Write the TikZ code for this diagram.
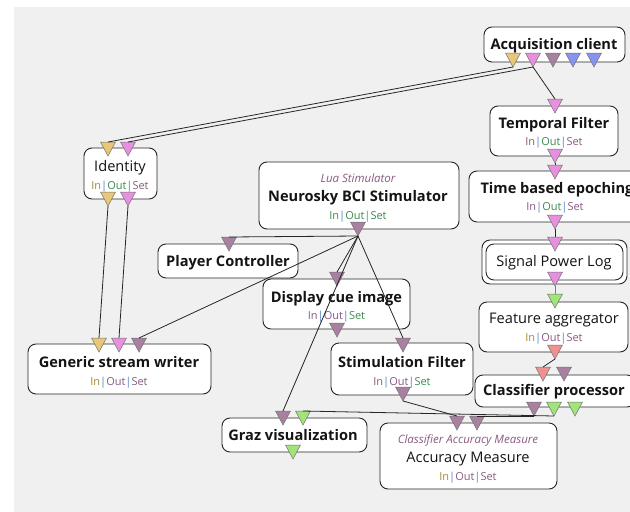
\documentclass[tikz,border=0pt]{standalone}
\usepackage{fontspec}
\setmainfont{Open Sans}
\definecolor{bggray}{HTML}{F0F0F0}
\definecolor{pyellow}{HTML}{E8C878}
\definecolor{ppink}{HTML}{E890E0}
\definecolor{pmauve}{HTML}{A880A0}
\definecolor{pblue}{HTML}{8494F0}
\definecolor{pgreen}{HTML}{A0E47A}
\definecolor{psalmon}{HTML}{F09090}
\definecolor{tyellow}{HTML}{A88A30}
\definecolor{tmauve}{HTML}{8A5A82}
\definecolor{tgreen}{HTML}{3F8A4F}
\definecolor{tsep}{HTML}{4A86C8}
\definecolor{wiregreen}{HTML}{4E9A50}

% connector port: name, x, top y, fill colour
\newcommand\port[4]{%
  \filldraw[fill=#4, draw=black!55, line width=0.5pt]
    (#2-7.5,#3) -- (#2+7.5,#3) -- (#2,#3+14) -- cycle;
  \coordinate (#1-in) at (#2,#3);
  \coordinate (#1-out) at (#2,#3+14);
}
% coloured In|Out|Set line
\newcommand\iosline[3]{\textcolor{#1}{In}\textcolor{tsep}{|}\textcolor{#2}{Out}\textcolor{tsep}{|}\textcolor{#3}{Set}}

\begin{document}
\begin{tikzpicture}[x=1pt, y=-1pt,
  box/.style={draw=black!85, fill=white, rounded corners=8pt, line width=0.9pt, inner sep=0pt},
  title/.style={anchor=base, font=\fontsize{14.6}{15}\selectfont\bfseries, text=black!92},
  plain/.style={anchor=base, font=\fontsize{14.6}{15}\selectfont, text=black!92},
  kind/.style={anchor=base, font=\fontsize{11.5}{12}\selectfont\itshape, text=tmauve},
  ios/.style={anchor=base, font=\fontsize{11}{12}\selectfont},
  wire/.style={draw=black!85, line width=0.8pt}]

\useasboundingbox (0,0) rectangle (630,512);
\clip (0,0) rectangle (630,512);
\fill[white] (0,0) rectangle (630,512);
\fill[bggray] (14,7) rectangle (630,512);

% boxes
\node[box, minimum width=141pt, minimum height=35pt] (acq) at (554.5,44.5) {};
\node[box, minimum width=128pt, minimum height=50pt] (tf) at (554,131) {};
\node[box, minimum width=172pt, minimum height=51pt] (tbe) at (555,196.5) {};
\node[box, minimum width=145pt, minimum height=44pt] (splo) at (554.5,262) {};
\node[box, minimum width=137pt, minimum height=36pt] (spl) at (554.5,262) {};
\node[box, minimum width=149pt, minimum height=50pt] (fa) at (553.5,327) {};
\node[box, minimum width=160pt, minimum height=32pt] (cp) at (555,391) {};
\node[box, minimum width=73pt, minimum height=51pt] (id) at (120.5,173.5) {};
\node[box, minimum width=200pt, minimum height=67pt] (ns) at (359,195.5) {};
\node[box, minimum width=140pt, minimum height=34pt] (pc) at (228,261) {};
\node[box, minimum width=147pt, minimum height=50pt] (dci) at (336.5,304) {};
\node[box, minimum width=183pt, minimum height=50pt] (gsw) at (119.5,369) {};
\node[box, minimum width=142pt, minimum height=52pt] (sf) at (402,369) {};
\node[box, minimum width=145pt, minimum height=34pt] (graz) at (294.5,435) {};
\node[box, minimum width=177pt, minimum height=66pt] (am) at (468.5,456) {};

% texts
\node[title] (acqT) at (554,49) {Acquisition client};
\node[title] (tfT) at (554,128) {Temporal Filter};
\node[ios] (tfI) at (554,145) {\iosline{tmauve}{tgreen}{tmauve}};
\node[title] (tbeT) at (557,193) {Time based epoching};
\node[ios] (tbeI) at (555,210) {\iosline{tmauve}{tgreen}{tmauve}};
\node[plain] (splT) at (554,266) {Signal Power Log};
\node[plain] (faT) at (554,323) {Feature aggregator};
\node[ios] (faI) at (554,341) {\iosline{tyellow}{tmauve}{tmauve}};
\node[title] (cpT) at (554,395) {Classifier processor};
\node[plain] (idT) at (120,171) {Identity};
\node[ios] (idI) at (120,189) {\iosline{tyellow}{tgreen}{tmauve}};
\node[kind] (nsK) at (358,182) {Lua Stimulator};
\node[title] (nsT) at (358,201) {Neurosky BCI Stimulator};
\node[ios] (nsI) at (358,219) {\iosline{tgreen}{tgreen}{tgreen}};
\node[title] (pcT) at (228,266) {Player Controller};
\node[title] (dciT) at (336.5,302) {Display cue image};
\node[ios] (dciI) at (336.5,319) {\iosline{tmauve}{tmauve}{tgreen}};
\node[title] (gswT) at (119,367) {Generic stream writer};
\node[ios] (gswI) at (119,385) {\iosline{tyellow}{tmauve}{tmauve}};
\node[title] (sfT) at (402,367) {Stimulation Filter};
\node[ios] (sfI) at (402,385) {\iosline{tmauve}{tmauve}{tgreen}};
\node[title] (grazT) at (293,440) {Graz visualization};
\node[kind] (amK) at (468,443) {Classifier Accuracy Measure};
\node[plain] (amT) at (468,462) {Accuracy Measure};
\node[ios] (amI) at (468,480) {\iosline{tyellow}{tmauve}{tmauve}};

% ports
\port{acq1}{513}{53}{pyellow}
\port{acq2}{533}{53}{ppink}
\port{acq3}{553}{53}{pmauve}
\port{acq4}{573}{53}{pblue}
\port{acq5}{594}{53}{pblue}
\port{tfi}{555}{99}{ppink}
\port{tfo}{555}{149}{ppink}
\port{tbei}{555}{165}{ppink}
\port{tbeo}{555}{215}{ppink}
\port{spli}{555}{237}{ppink}
\port{splo}{555}{272}{ppink}
\port{fai}{555}{294}{pgreen}
\port{fao}{555}{345}{psalmon}
\port{cpi1}{543}{367}{psalmon}
\port{cpi2}{564}{367}{pmauve}
\port{cpo1}{534}{402}{pmauve}
\port{cpo2}{554}{402}{pgreen}
\port{cpo3}{575}{402}{pgreen}
\port{idi1}{108}{142}{pyellow}
\port{idi2}{128}{142}{ppink}
\port{ido1}{108}{192}{pyellow}
\port{ido2}{128}{192}{ppink}
\port{nso}{358}{222}{pmauve}
\port{pci}{229}{237}{pmauve}
\port{dcii}{337}{272}{pmauve}
\port{dcio}{337}{323}{pmauve}
\port{gswi1}{99}{338}{pyellow}
\port{gswi2}{119}{338}{ppink}
\port{gswi3}{139}{338}{pmauve}
\port{sfi}{403}{338}{pmauve}
\port{sfo}{403}{387}{pmauve}
\port{grazi1}{283}{411}{pmauve}
\port{grazi2}{303}{411}{pgreen}
\port{grazo}{293}{445}{pgreen}
\port{ami1}{457}{416}{pmauve}
\port{ami2}{477}{416}{pmauve}

% connectors
\draw[wire] (acq1-out) -- (idi1-in);
\draw[wire] (acq2-out) -- (idi2-in);
\draw[wire] (acq2-out) -- (tfi-in);
\draw[wire] (tfo-out) -- (tbei-in);
\draw[wire] (tbeo-out) -- (spli-in);
\draw[wire, draw=wiregreen] (splo-out) -- (fai-in);
\draw[wire] (fao-out) -- (cpi1-in);
\draw[wire] (ido1-out) -- (gswi1-in);
\draw[wire] (ido2-out) -- (gswi2-in);
\draw[wire] (nso-out) -- (pci-in);
\draw[wire] (nso-out) -- (gswi3-in);
\draw[wire] (nso-out) -- (dcii-in);
\draw[wire] (nso-out) -- (sfi-in);
\draw[wire] (nso-out) -- (grazi1-in);
\draw[wire] (sfo-out) -- (ami1-in);
\draw[wire] (cpo1-out) -- (ami2-in);
\draw[wire] (cpo2-out) -- (grazi2-in);
\end{tikzpicture}
\end{document}
